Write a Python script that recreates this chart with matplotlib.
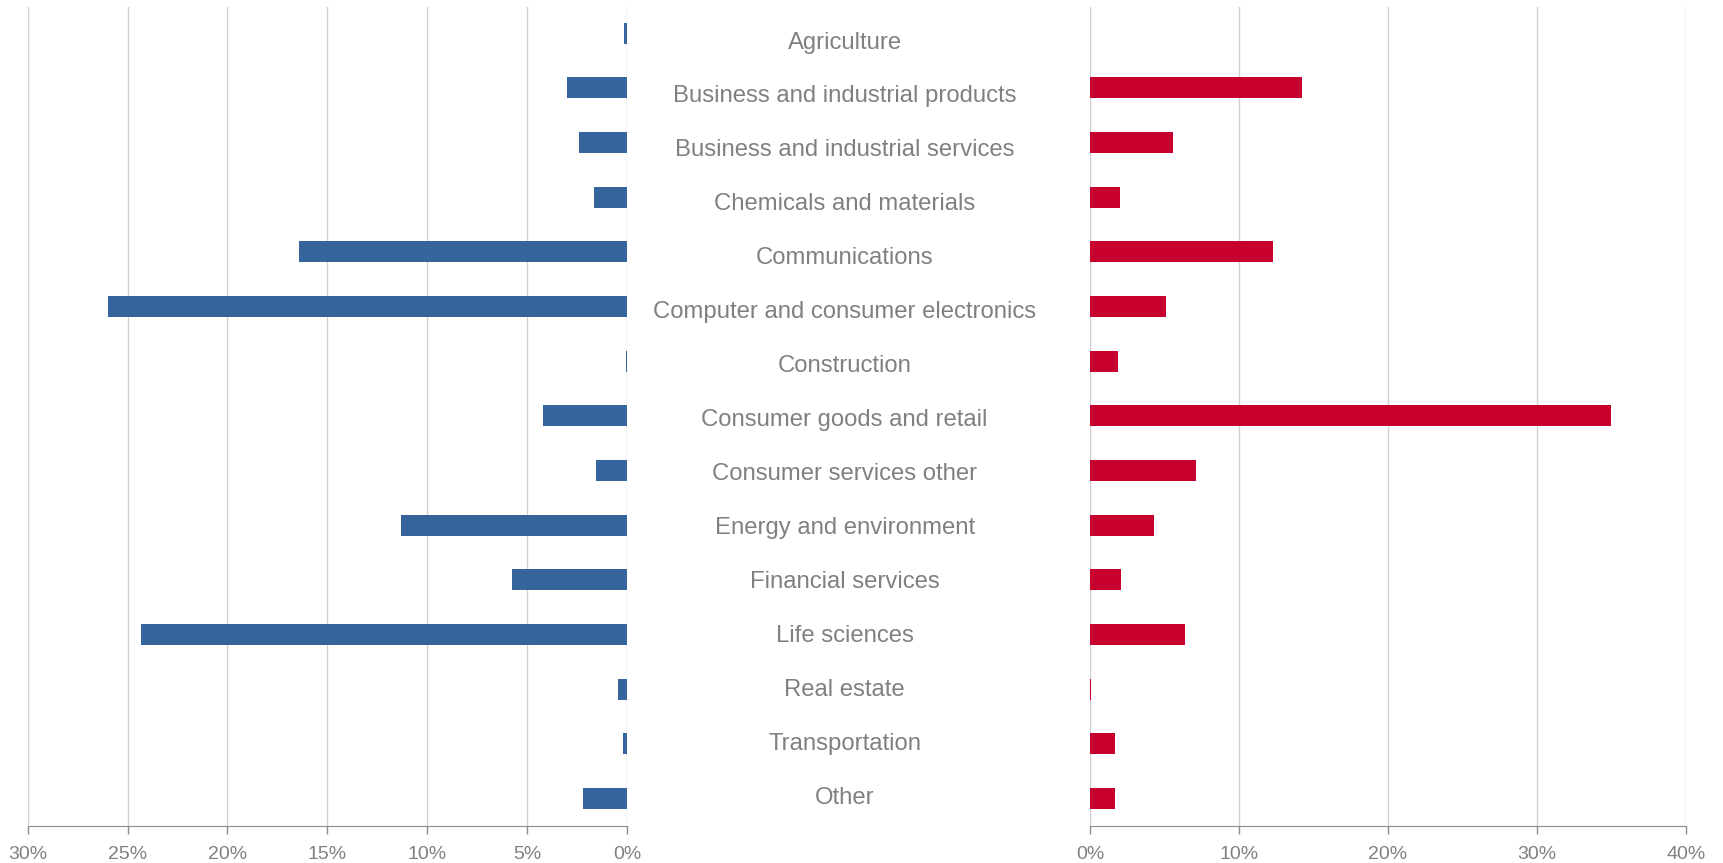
import numpy as np
import matplotlib.pyplot as plt
from matplotlib.ticker import FuncFormatter

plt.rcParams['font.family'] = ['Liberation Sans', 'DejaVu Sans']

# data (percent)
sectors = ['Agriculture', 'Business and industrial products', 'Business and industrial services',
           'Chemicals and materials', 'Communications', 'Computer and consumer electronics',
           'Construction', 'Consumer goods and retail', 'Consumer services other',
           'Energy and environment', 'Financial services', 'Life sciences', 'Real estate',
           'Transportation', 'Other']
left_vals = [0.15, 3.0, 2.4, 1.65, 16.4, 26.0, 0.05, 4.2, 1.55, 11.3, 5.75, 24.3, 0.45, 0.2, 2.2]
right_vals = [0.0, 14.2, 5.6, 2.0, 12.3, 5.1, 1.9, 35.0, 7.1, 4.3, 2.1, 6.35, 0.1, 1.7, 1.7]

blue = '#35659c'
red = '#c8002d'
grey_text = '#808080'
grid_col = '#d0d0d0'
spine_col = '#8c8c8c'

fig = plt.figure(figsize=(17.23, 8.63), dpi=100)
bottom, height = 0.043, 0.949
ax1 = fig.add_axes([0.016, bottom, 0.348, height])
ax2 = fig.add_axes([0.6326, bottom, 0.3459, height])
axm = fig.add_axes([0.364, bottom, 0.2686, height])

y = np.arange(len(sectors))

ax1.barh(y, left_vals, height=0.38, color=blue, zorder=3)
ax1.set_xlim(30, 0)
ax1.set_xticks([30, 25, 20, 15, 10, 5, 0])

ax2.barh(y, right_vals, height=0.38, color=red, zorder=3)
ax2.set_xlim(0, 40)
ax2.set_xticks([0, 10, 20, 30, 40])

for ax in (ax1, ax2):
    ax.set_ylim(14.5, -0.48)
    ax.set_yticks([])
    ax.xaxis.set_major_formatter(FuncFormatter(lambda v, p: '%d%%' % v))
    ax.grid(axis='x', color=grid_col, linewidth=1.0, zorder=0)
    for s in ('top', 'right', 'left'):
        ax.spines[s].set_visible(False)
    ax.spines['bottom'].set_color(spine_col)
    ax.tick_params(axis='x', colors=spine_col, labelcolor=grey_text, labelsize=14,
                   length=5.5, width=1.0, pad=9)

# middle labels
axm.set_xlim(0, 1)
axm.set_ylim(14.52, -0.66)
axm.axis('off')
for i, name in enumerate(sectors):
    axm.text(0.47, i, name, ha='center', va='center', fontsize=17.2, color=grey_text)

plt.savefig('out.png', dpi=100)
